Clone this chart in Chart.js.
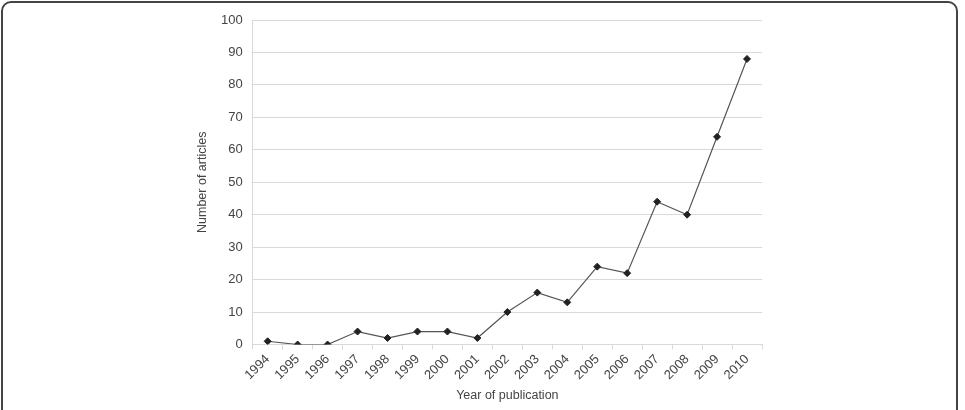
<!DOCTYPE html>
<html>
<head>
<meta charset="utf-8">
<script src="https://cdn.jsdelivr.net/npm/chart.js@4/dist/chart.umd.min.js"></script>
<style>
    html, body { margin: 0; padding: 0; background: #fff; }
    #wrap { position: relative; width: 965px; height: 410px; overflow: hidden; }
    #frame {
        position: absolute; left: 1px; top: 1px; width: 957px; height: 420px;
        border: 2px solid #444; border-radius: 10px; box-sizing: border-box;
    }
    canvas { position: absolute; left: 0; top: 0; }
</style>
</head>
<body>
<div id="wrap">
    <div id="frame"></div>
    <canvas id="articlesChart" width="965" height="410"></canvas>
</div>
<script>
const years = ['1994', '1995', '1996', '1997', '1998', '1999', '2000', '2001', '2002',
    '2003', '2004', '2005', '2006', '2007', '2008', '2009', '2010'];
const articleCounts = [1, 0, 0, 4, 2, 4, 4, 2, 10, 16, 13, 24, 22, 44, 40, 64, 88];
const yTicks = [0, 10, 20, 30, 40, 50, 60, 70, 80, 90, 100];

const textColor = '#444';
const gridColor = '#d9d9d9';
const fontFamily = '"Liberation Sans", Arial, sans-serif';

document.addEventListener('DOMContentLoaded', () => {
    const canvas = document.getElementById('articlesChart');
    new Chart(canvas.getContext('2d'), {
        type: 'line',
        data: {
            labels: years,
            datasets: [{
                label: 'Number of articles',
                data: articleCounts,
                borderColor: '#555',
                borderWidth: 1.2,
                pointStyle: 'rectRot',
                pointRadius: 3.5,
                pointBackgroundColor: '#222',
                pointBorderColor: '#222',
                pointBorderWidth: 1,
                tension: 0
            }]
        },
        options: {
            responsive: false,
            animation: false,
            devicePixelRatio: 1,
            layout: { padding: { left: 195, right: 203, top: 20, bottom: 7 } },
            plugins: {
                legend: { display: false },
                tooltip: { enabled: false }
            },
            scales: {
                x: {
                    offset: true,
                    grid: {
                        offset: true,
                        drawOnChartArea: false,
                        color: gridColor,
                        tickLength: 5
                    },
                    border: { color: gridColor },
                    ticks: {
                        color: textColor,
                        font: { family: fontFamily, size: 13 },
                        minRotation: 45,
                        maxRotation: 45,
                        padding: 2
                    },
                    title: {
                        display: true,
                        text: 'Year of publication',
                        color: textColor,
                        font: { family: fontFamily, size: 12.5 },
                        padding: { top: 3, bottom: 0 }
                    }
                },
                y: {
                    min: yTicks[0],
                    max: yTicks[yTicks.length - 1],
                    afterBuildTicks: axis => { axis.ticks = yTicks.map(v => ({ value: v })); },
                    grid: { color: gridColor, drawTicks: false },
                    border: { color: gridColor },
                    ticks: {
                        color: textColor,
                        font: { family: fontFamily, size: 13 },
                        padding: 10
                    },
                    title: {
                        display: true,
                        text: 'Number of articles',
                        color: textColor,
                        font: { family: fontFamily, size: 12.5 },
                        padding: { top: 0, bottom: 1 }
                    }
                }
            }
        }
    });
});
</script>
</body>
</html>
